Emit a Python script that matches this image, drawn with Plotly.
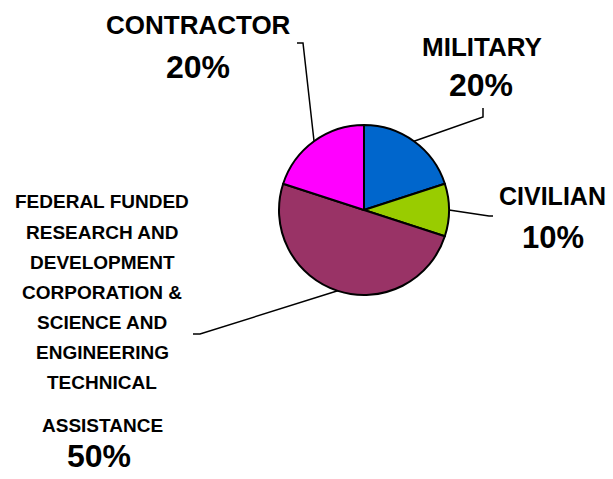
import math
import plotly.graph_objects as go

# ---- data ----
categories = ["MILITARY", "CIVILIAN",
              "FEDERAL FUNDED RESEARCH AND DEVELOPMENT CORPORATION & SCIENCE AND ENGINEERING TECHNICAL ASSISTANCE",
              "CONTRACTOR"]
values = [20, 10, 50, 20]
colors = ["#0066CC", "#99CC00", "#993366", "#FF00FF"]
label_lines = [
    ["MILITARY"],
    ["CIVILIAN"],
    ["FEDERAL FUNDED", "RESEARCH AND", "DEVELOPMENT", "CORPORATION &",
     "SCIENCE AND", "ENGINEERING", "TECHNICAL", "ASSISTANCE"],
    ["CONTRACTOR"],
]

# ---- layout constants (pixels) ----
W, H = 613, 479
cx, cy, r = 364, 210, 85

def px(x):
    return x / W

def py(y):
    return 1 - y / H

fig = go.Figure(go.Pie(
    labels=categories, values=values, sort=False, direction="clockwise",
    rotation=0, textinfo="none", hoverinfo="label+percent",
    marker=dict(colors=colors, line=dict(color="black", width=2)),
    domain=dict(x=[px(cx - r), px(cx + r)], y=[py(cy + r), py(cy - r)]),
    showlegend=False,
))

# label placement (pixel centers): name line centers, percent center
name_pos = [
    (482, [46.5]),
    (552, [195.5]),
    (102, [202, 232, 262, 292, 322, 352, 382, 425]),
    (198, [25]),
]
pct_pos = [(481, 85), (553, 237), (99, 456), (198, 66.5)]
name_size = [26, 25, 19, 26]
pct_size = [32, 31, 32, 32]
# leader line start points (label side), with short elbow
leader_start = [
    [(483, 108), (483, 117)],
    [(493, 216), (489, 216)],
    [(193, 334), (200, 334)],
    [(297, 43), (303, 43)],
]

total = sum(values)
annotations = []
shapes = []
cum = 0
for i, v in enumerate(values):
    pct = f"{round(100 * v / total)}%"
    x0, ys = name_pos[i]
    for line, yy in zip(label_lines[i], ys):
        annotations.append(dict(
            x=px(x0), y=py(yy), xref="paper", yref="paper", text=f"<b>{line}</b>",
            showarrow=False, xanchor="center", yanchor="middle",
            font=dict(family="Liberation Sans, Arial, sans-serif", size=name_size[i], color="black")))
    annotations.append(dict(
        x=px(pct_pos[i][0]), y=py(pct_pos[i][1]), xref="paper", yref="paper",
        text=f"<b>{pct}</b>", showarrow=False, xanchor="center", yanchor="middle",
        font=dict(family="Liberation Sans, Arial, sans-serif", size=pct_size[i], color="black")))
    theta = math.radians(360 * (cum + v / 2) / total)
    ex = cx + r * math.sin(theta)
    ey = cy - r * math.cos(theta)
    pts = leader_start[i] + [(ex, ey)]
    path = "M " + " L ".join(f"{px(a)},{py(b)}" for a, b in pts)
    shapes.append(dict(type="path", path=path, xref="paper", yref="paper",
                       line=dict(color="black", width=1.5), layer="below"))
    cum += v

fig.update_layout(
    width=W, height=H, margin=dict(l=0, r=0, t=0, b=0),
    paper_bgcolor="white", plot_bgcolor="white",
    annotations=annotations, shapes=shapes,
)

fig.write_html("out.html", config={"displayModeBar": False},
               post_script="document.body.style.margin='0';document.body.style.padding='0';")
